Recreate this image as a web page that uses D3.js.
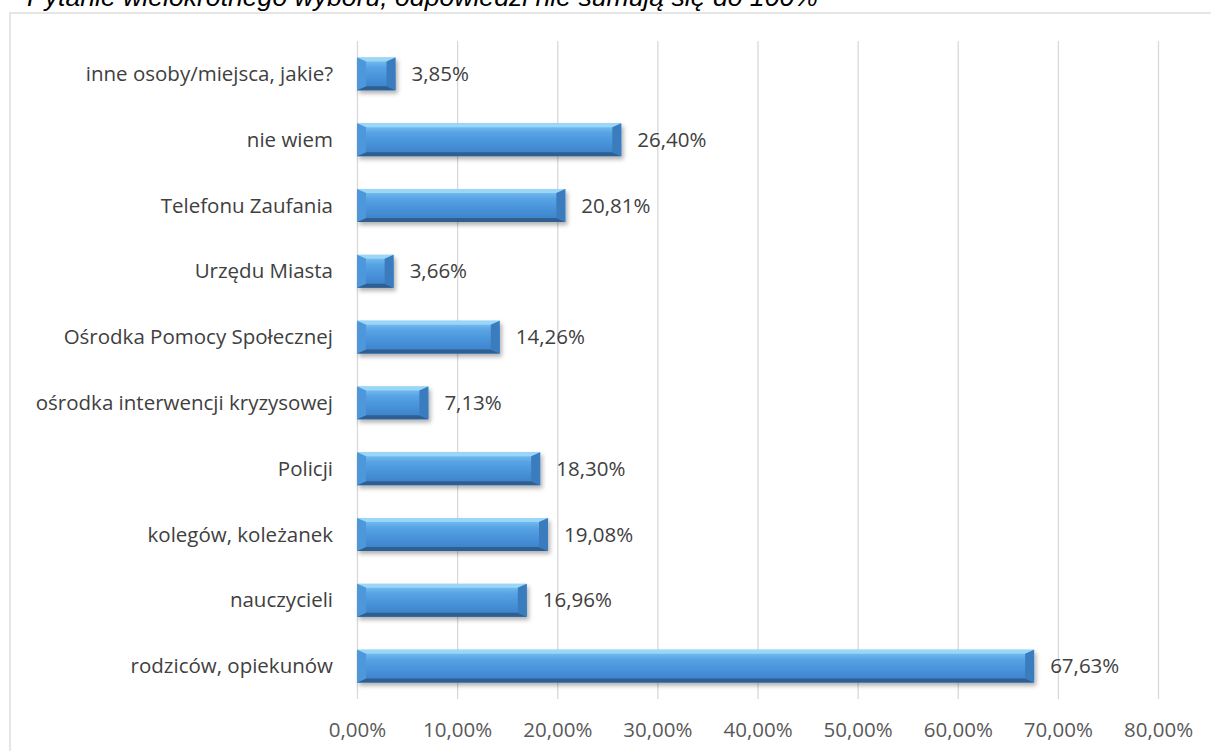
<!DOCTYPE html>
<html>
<head>
<meta charset="utf-8">
<script src="https://cdn.jsdelivr.net/npm/d3@7"></script>
<style>
  body { margin: 0; background: #fff; }
  svg { display: block; }
  text { font-family: 'Open Sans', sans-serif; }
</style>
</head>
<body>
<script>
const width = 1211
const height = 751

// data, bottom to top as in the original sheet
const categories = [
  'rodziców, opiekunów',
  'nauczycieli',
  'kolegów, koleżanek',
  'Policji',
  'ośrodka interwencji kryzysowej',
  'Ośrodka Pomocy Społecznej',
  'Urzędu Miasta',
  'Telefonu Zaufania',
  'nie wiem',
  'inne osoby/miejsca, jakie?'
]
const values = [67.63, 16.96, 19.08, 18.30, 7.13, 14.26, 3.66, 20.81, 26.40, 3.85]
const tickValues = [0, 10, 20, 30, 40, 50, 60, 70, 80]
const title = 'Pytanie wielokrotnego wyboru, odpowiedzi nie sumują się do 100%'

const rows = categories.map((c, i) => ({ cat: c, value: values[i] }))
const fmt = (v) => v.toFixed(2).replace('.', ',') + '%'
const fontSize = '20.5px'

let svg = d3.select('body').append('svg')
  .attr('width', width)
  .attr('height', height)

let defs = svg.append('defs')

let grad = defs.append('linearGradient')
  .attr('id', 'barGrad')
  .attr('x1', 0).attr('y1', 0).attr('x2', 0).attr('y2', 1)
grad.selectAll('stop')
  .data([
    [0, '#83c8f2'],
    [0.3, '#56a3e4'],
    [0.65, '#4690d7'],
    [1, '#3b80c6']
  ])
  .enter().append('stop')
  .attr('offset', (d) => d[0])
  .attr('stop-color', (d) => d[1])

let shadow = defs.append('filter')
  .attr('id', 'shadow')
  .attr('x', '-10%').attr('y', '-30%')
  .attr('width', '130%').attr('height', '180%')
shadow.append('feDropShadow')
  .attr('dx', 2).attr('dy', 3)
  .attr('stdDeviation', 2)
  .attr('flood-color', '#000')
  .attr('flood-opacity', 0.3)

// chart frame (runs off the right and bottom edge)
svg.append('rect')
  .attr('x', 10).attr('y', 13)
  .attr('width', 1220).attr('height', 760)
  .attr('fill', 'none')
  .attr('stroke', '#d9d9d9')
  .attr('stroke-width', 1.3)

svg.append('text')
  .attr('x', 27)
  .attr('y', 6)
  .style('font-family', "'Liberation Sans', Arial, sans-serif")
  .style('font-style', 'italic')
  .style('font-size', '26.6px')
  .attr('fill', '#000')
  .text(title)

const x = d3.scaleLinear().domain([0, 80]).range([357, 1158])
const y = d3.scaleBand()
  .domain(categories.slice().reverse())
  .range([41, 699])
  .paddingInner(0.5)
  .paddingOuter(0.25)

// gridlines
svg.append('g')
  .selectAll('line')
  .data(tickValues)
  .enter().append('line')
  .attr('x1', (d) => x(d) + 0.5)
  .attr('x2', (d) => x(d) + 0.5)
  .attr('y1', 41)
  .attr('y2', 699)
  .attr('stroke', '#d9d9d9')
  .attr('stroke-width', 1.3)

// x axis labels
let xAxis = svg.append('g')
  .attr('transform', 'translate(0,737)')
  .call(d3.axisBottom(x).tickValues(tickValues).tickFormat(fmt).tickSize(0).tickPadding(0))
xAxis.select('.domain').remove()
xAxis.selectAll('text')
  .attr('dy', 0)
  .style('font-family', "'Open Sans', sans-serif")
  .style('font-size', fontSize)
  .attr('fill', '#595959')

// y axis labels
let yAxis = svg.append('g')
  .attr('transform', 'translate(333,0)')
  .call(d3.axisLeft(y).tickSize(0).tickPadding(0))
yAxis.select('.domain').remove()
yAxis.selectAll('text')
  .attr('dy', '0.35em')
  .style('font-family', "'Open Sans', sans-serif")
  .style('font-size', fontSize)
  .attr('fill', '#404040')

// bevelled bars
const bt = 4
const bs = 9
let bars = svg.append('g')
  .selectAll('g')
  .data(rows)
  .enter().append('g')
  .attr('transform', (d) => `translate(${x(0)},${y(d.cat)})`)
  .attr('filter', 'url(#shadow)')

bars.append('rect')
  .attr('width', (d) => x(d.value) - x(0))
  .attr('height', y.bandwidth())
  .attr('fill', 'url(#barGrad)')

const h = y.bandwidth()
const pts = (arr) => arr.map((p) => p.join(',')).join(' ')

bars.append('polygon')
  .attr('points', (d) => {
    const w = x(d.value) - x(0)
    return pts([[0, 0], [w, 0], [w - bs, bt], [bs, bt]])
  })
  .attr('fill', '#9ad6f7')

bars.append('polygon')
  .attr('points', (d) => {
    const w = x(d.value) - x(0)
    return pts([[0, h], [w, h], [w - bs, h - bt], [bs, h - bt]])
  })
  .attr('fill', '#2d5f90')

bars.append('polygon')
  .attr('points', pts([[0, 0], [bs, bt], [bs, h - bt], [0, h]]))
  .attr('fill', '#4d97da')

bars.append('polygon')
  .attr('points', (d) => {
    const w = x(d.value) - x(0)
    return pts([[w, 0], [w - bs, bt], [w - bs, h - bt], [w, h]])
  })
  .attr('fill', '#3a7cbe')

// value labels
svg.append('g')
  .selectAll('text')
  .data(rows)
  .enter().append('text')
  .attr('x', (d) => x(d.value) + 16)
  .attr('y', (d) => y(d.cat) + h / 2)
  .attr('dy', '0.35em')
  .style('font-size', fontSize)
  .attr('fill', '#404040')
  .text((d) => fmt(d.value))
</script>
</body>
</html>
